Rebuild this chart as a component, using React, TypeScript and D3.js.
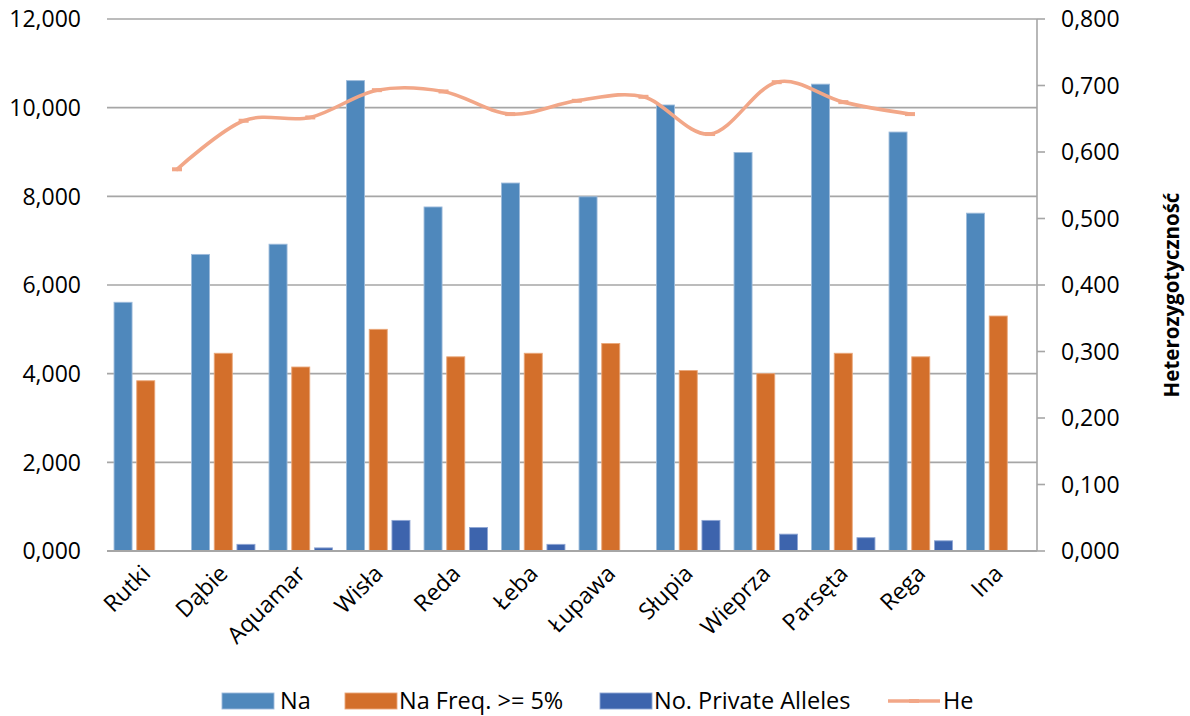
import React from "react";
import * as d3 from "d3";

// Sampling sites along the Polish coast rivers
const categories = [
  "Rutki", "Dąbie", "Aquamar", "Wisła", "Reda", "Łeba",
  "Łupawa", "Słupia", "Wieprza", "Parsęta", "Rega", "Ina",
];

// Mean number of alleles
const na = [5.61, 6.69, 6.92, 10.61, 7.76, 8.3, 7.99, 10.06, 8.99, 10.53, 9.45, 7.62];
// Alleles with frequency >= 5%
const naFreq5 = [3.84, 4.46, 4.15, 5.0, 4.38, 4.46, 4.68, 4.07, 4.0, 4.46, 4.38, 5.3];
// Private alleles
const privateAlleles = [0, 0.15, 0.07, 0.69, 0.53, 0.15, 0, 0.69, 0.38, 0.3, 0.23, 0];
// Expected heterozygosity (Rutki .. Rega)
const he = [0.574, 0.647, 0.652, 0.693, 0.691, 0.657, 0.677, 0.683, 0.627, 0.705, 0.675, 0.657];

const leftTicks = [0, 2, 4, 6, 8, 10, 12];
const rightTicks = [0, 0.1, 0.2, 0.3, 0.4, 0.5, 0.6, 0.7, 0.8];

const barSeries = [
  { key: "Na", values: na, fill: "#4F88BC", stroke: "#9DBBDB" },
  { key: "Na Freq. >= 5%", values: naFreq5, fill: "#D36F2B", stroke: "#EAA77A" },
  { key: "No. Private Alleles", values: privateAlleles, fill: "#3D64AD", stroke: "#8FA6D4" },
];
const heColor = "#F2A788";

const W = 1190;
const H = 716;
const plot = { left: 107, right: 1037, top: 19, bottom: 551 };

const locale = d3.formatLocale({ decimal: ",", thousands: " ", grouping: [3], currency: ["", ""] });
const fmt3 = locale.format(".3f");

const FONT = "'Open Sans', 'DejaVu Sans', sans-serif";

export default function App() {
  const x = d3.scaleBand<string>().domain(categories).range([plot.left, plot.right]).padding(0);
  const xInner = d3
    .scaleBand<string>()
    .domain(barSeries.map((s) => s.key))
    .range([0, x.bandwidth()])
    .paddingInner(0.207)
    .paddingOuter(0.31);
  const yLeft = d3.scaleLinear().domain([0, 12]).range([plot.bottom, plot.top]);
  const yRight = d3.scaleLinear().domain([0, 0.8]).range([plot.bottom, plot.top]);

  // He series sits on its own category axis, offset from the bar groups
  const xLine = d3
    .scalePoint<string>()
    .domain(categories.slice(0, he.length))
    .range([plot.left + 70, plot.left + 803]);

  const linePath = d3
    .line<number>()
    .x((_, i) => xLine(categories[i]) as number)
    .y((d) => yRight(d))
    .curve(d3.curveCardinal.tension(0))(he) as string;

  const legendY = 701;
  const legendItems = [
    { label: "Na", sw: 222, tx: 280, color: barSeries[0].fill, stroke: barSeries[0].stroke },
    { label: "Na Freq. >= 5%", sw: 345, tx: 399, color: barSeries[1].fill, stroke: barSeries[1].stroke },
    { label: "No. Private Alleles", sw: 600, tx: 654, color: barSeries[2].fill, stroke: barSeries[2].stroke },
  ];

  return (
    <svg
      width={W}
      height={H}
      style={{ position: "absolute", left: 0, top: 0, background: "#fff" }}
      fontFamily={FONT}
    >
      <rect x={0} y={0} width={W} height={H} fill="#fff" />

      {/* gridlines */}
      {leftTicks.map((t) => (
        <line
          key={"g" + t}
          x1={plot.left}
          x2={plot.right}
          y1={yLeft(t)}
          y2={yLeft(t)}
          stroke="#A6A6A6"
          strokeWidth={1.6}
        />
      ))}

      {/* left tick labels */}
      {leftTicks.map((t) => (
        <text
          key={"l" + t}
          x={81}
          y={yLeft(t)}
          dy="0.36em"
          textAnchor="end"
          fontSize={23}
          fill="#000"
        >
          {fmt3(t)}
        </text>
      ))}

      {/* right axis */}
      <line x1={plot.right} x2={plot.right} y1={plot.top} y2={plot.bottom} stroke="#A6A6A6" strokeWidth={1.6} />
      {rightTicks.map((t) => (
        <g key={"r" + t}>
          <line x1={plot.right} x2={plot.right + 8} y1={yRight(t)} y2={yRight(t)} stroke="#A6A6A6" strokeWidth={1.6} />
          <text x={1061} y={yRight(t)} dy="0.36em" textAnchor="start" fontSize={23} fill="#000">
            {fmt3(t)}
          </text>
        </g>
      ))}
      <text
        transform={`translate(1179, ${(plot.top + plot.bottom) / 2 + 10}) rotate(-90)`}
        textAnchor="middle"
        fontSize={20.5}
        fontWeight="bold"
        fill="#000"
      >
        Heterozygotyczność
      </text>

      {/* bars */}
      {categories.map((c, i) => (
        <g key={c} transform={`translate(${x(c)},0)`}>
          {barSeries.map((s) => {
            const v = s.values[i];
            if (!v) return null;
            const y0 = yLeft(v);
            return (
              <rect
                key={s.key}
                x={xInner(s.key)}
                y={y0}
                width={xInner.bandwidth()}
                height={yLeft(0) - y0}
                fill={s.fill}
                stroke={s.stroke}
                strokeWidth={0.9}
              />
            );
          })}
        </g>
      ))}

      {/* baseline */}
      <line x1={plot.left} x2={plot.right} y1={plot.bottom} y2={plot.bottom} stroke="#A6A6A6" strokeWidth={1.8} />

      {/* He line */}
      <path d={linePath} fill="none" stroke={heColor} strokeWidth={3.6} strokeLinecap="round" />
      {he.map((v, i) => (
        <rect
          key={"m" + i}
          x={(xLine(categories[i]) as number) - 5}
          y={yRight(v) - 2}
          width={10}
          height={4}
          fill={heColor}
        />
      ))}

      {/* category labels */}
      {categories.map((c) => (
        <text
          key={"x" + c}
          transform={`translate(${(x(c) as number) + x.bandwidth() / 2 + 6}, 575) rotate(-45)`}
          textAnchor="end"
          fontSize={23}
          fill="#000"
        >
          {c}
        </text>
      ))}

      {/* legend */}
      {legendItems.map((it) => (
        <g key={it.label}>
          <rect x={it.sw} y={legendY - 8} width={52} height={16} fill={it.color} stroke={it.stroke} strokeWidth={0.9} />
          <text x={it.tx} y={legendY} dy="0.36em" fontSize={23.5} fill="#000">
            {it.label}
          </text>
        </g>
      ))}
      <line x1={888} x2={940} y1={legendY} y2={legendY} stroke={heColor} strokeWidth={3.6} />
      <rect x={909} y={legendY - 2} width={10} height={4} fill={heColor} />
      <text x={943} y={legendY} dy="0.36em" fontSize={23.5} fill="#000">
        He
      </text>
    </svg>
  );
}
